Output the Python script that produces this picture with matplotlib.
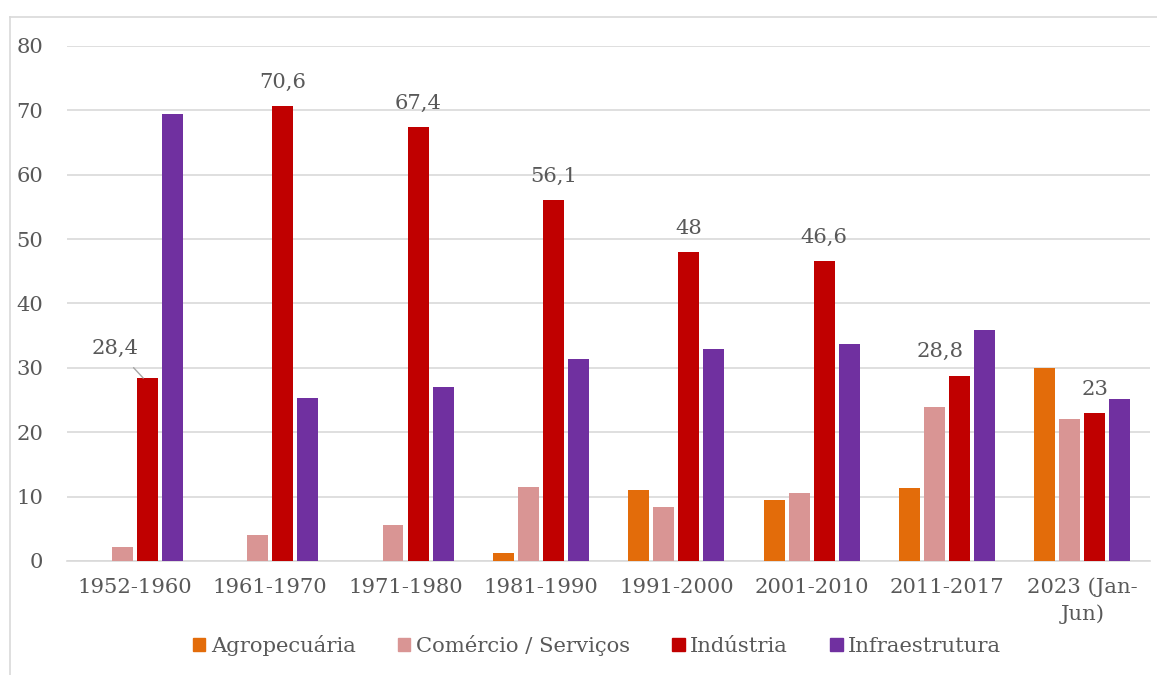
import matplotlib
matplotlib.use("Agg")
import matplotlib.pyplot as plt
import numpy as np
from matplotlib.lines import Line2D

categories = ["1952-1960", "1961-1970", "1971-1980", "1981-1990",
              "1991-2000", "2001-2010", "2011-2017", "2023 (Jan-\nJun)"]
series_names = ["Agropecuária", "Comércio / Serviços", "Indústria", "Infraestrutura"]
agro = [0, 0, 0, 1.2, 11.0, 9.5, 11.3, 30.0]
comercio = [2.2, 4.1, 5.6, 11.5, 8.4, 10.5, 23.9, 22.0]
industria = [28.4, 70.6, 67.4, 56.1, 48.0, 46.6, 28.8, 23.0]
infra = [69.4, 25.3, 27.0, 31.3, 32.9, 33.7, 35.9, 25.2]
label_texts = ["28,4", "70,6", "67,4", "56,1", "48", "46,6", "28,8", "23"]
yticks = [0, 10, 20, 30, 40, 50, 60, 70, 80]

colors = ["#E36C0A", "#D99594", "#C00000", "#7030A0"]
txt = "#595959"
font = "DejaVu Serif"
fs = 15.2

fig = plt.figure(figsize=(11.57, 6.75), dpi=100)
ax = fig.add_axes([0.058, 0.169, 0.936, 0.763])

x = np.arange(len(categories))
spacing = 0.185
width = 0.155
offsets = [-1.5 * spacing, -0.5 * spacing, 0.5 * spacing, 1.5 * spacing]
for vals, off, col, name in zip([agro, comercio, industria, infra], offsets, colors, series_names):
    ax.bar(x + off, vals, width=width, color=col, label=name, zorder=3)

ax.set_xlim(-0.5, len(categories) - 0.5)
ax.set_ylim(0, 80)
ax.set_yticks(yticks)
ax.set_yticklabels([str(t) for t in yticks], fontsize=fs, color=txt, family=font)
ax.set_xticks(x)
ax.set_xticklabels(categories, fontsize=fs, color=txt, family=font, linespacing=1.45)
ax.tick_params(axis="both", length=0)
ax.tick_params(axis="x", pad=12)
ax.tick_params(axis="y", pad=17)
ax.grid(axis="y", color="#D9D9D9", linewidth=1.2, zorder=0)
for s in ["left", "right", "top"]:
    ax.spines[s].set_visible(False)
ax.spines["bottom"].set_color("#D9D9D9")
ax.spines["bottom"].set_linewidth(1.2)

# data labels on Indústria
ind_x = x + offsets[2]
label_offsets = [(-20, 21.5), (0, 17), (0, 17), (0, 17), (0, 17), (0, 17), (-14, 17), (0, 17)]
for i, (xv, yv, lab, (dx, dy)) in enumerate(zip(ind_x, industria, label_texts, label_offsets)):
    if i == 0:
        ax.annotate(lab, xy=(xv - 0.03, yv), xytext=(dx, dy), textcoords="offset points",
                    ha="center", va="center", fontsize=fs, color=txt, family=font,
                    arrowprops=dict(arrowstyle="-", color="#A6A6A6", lw=1,
                                    shrinkA=7, shrinkB=0))
    else:
        ax.annotate(lab, xy=(xv, yv), xytext=(dx, dy), textcoords="offset points",
                    ha="center", va="center", fontsize=fs, color=txt, family=font)

handles = [plt.Rectangle((0, 0), 1, 1, color=c) for c in colors]
leg = fig.legend(handles, series_names, loc="center", bbox_to_anchor=(0.516, 0.044),
                 ncol=4, frameon=False, handlelength=0.6, handleheight=0.6,
                 handletextpad=0.25, columnspacing=2.0,
                 prop={"family": font, "size": fs})
for t in leg.get_texts():
    t.set_color(txt)

# outer chart frame (left and top edges)
fig.add_artist(Line2D([10 / 1157, 10 / 1157], [0, 1 - 17 / 675], color="#D9D9D9", lw=1.2,
                      transform=fig.transFigure))
fig.add_artist(Line2D([10 / 1157, 1], [1 - 17 / 675, 1 - 17 / 675], color="#D9D9D9", lw=1.2,
                      transform=fig.transFigure))

fig.savefig("out.png", dpi=100)
